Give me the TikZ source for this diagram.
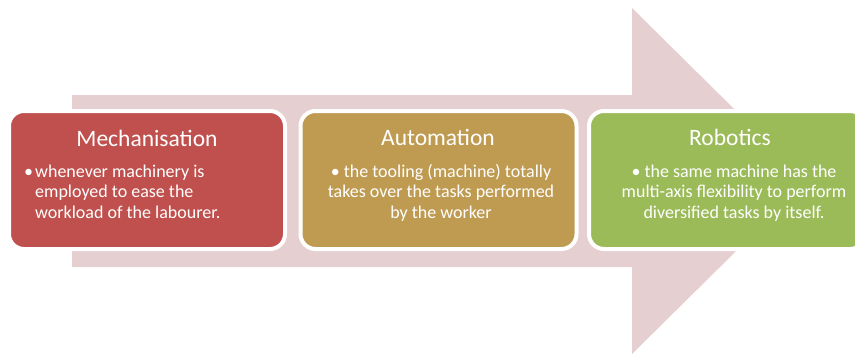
\documentclass[tikz,border=0pt]{standalone}
\usepackage{fontspec}
\setmainfont{Carlito}
\definecolor{arrowpink}{RGB}{230,207,208}
\definecolor{mechred}{RGB}{192,80,77}
\definecolor{autogold}{RGB}{191,155,82}
\definecolor{robgreen}{RGB}{155,187,89}
\tikzset{
  stagebox/.style={draw=white, line width=4pt, rounded corners=15pt, minimum width=276pt, minimum height=138pt, inner sep=0pt},
  titletext/.style={text=white, font=\fontsize{23.5}{28}\selectfont, inner sep=0pt, anchor=base},
  bodytext/.style={text=white, font=\fontsize{18}{20.5}\selectfont, inner sep=0pt},
}
\begin{document}
\begin{tikzpicture}[x=1pt,y=-1pt]
\useasboundingbox (0,0) rectangle (855,354);
\begin{scope}
\clip (0,0) rectangle (855,354);
\fill[arrowpink] (72,95) -- (632,95) -- (632,8) -- (807,181) -- (632,354) -- (632,267) -- (72,267) -- cycle;
\node[stagebox, fill=mechred] (mech) at (147,180) {};
\node[stagebox, fill=autogold] (auto) at (438.5,180) {};
\node[stagebox, fill=robgreen] (robo) at (727,180) {};
\end{scope}
\node[titletext] (mecht) at (147,146) {Mechanisation};
\node[titletext] (autot) at (438,145) {Automation};
\node[titletext] (robot) at (730,145) {Robotics};
\node[bodytext, anchor=base west, align=left] (mechb) at (24,218)
  {\makebox[11pt][l]{•}whenever machinery is\\\hspace*{11pt}employed to ease the\\\hspace*{11pt}workload of the labourer.};
\node[bodytext, anchor=base, align=center] (autob) at (441,218)
  {• the tooling (machine) totally\\takes over the tasks performed\\by the worker};
\node[bodytext, anchor=base, align=center] (robob) at (734,218)
  {• the same machine has the\\multi-axis flexibility to perform\\diversified tasks by itself.};
\end{tikzpicture}
\end{document}
